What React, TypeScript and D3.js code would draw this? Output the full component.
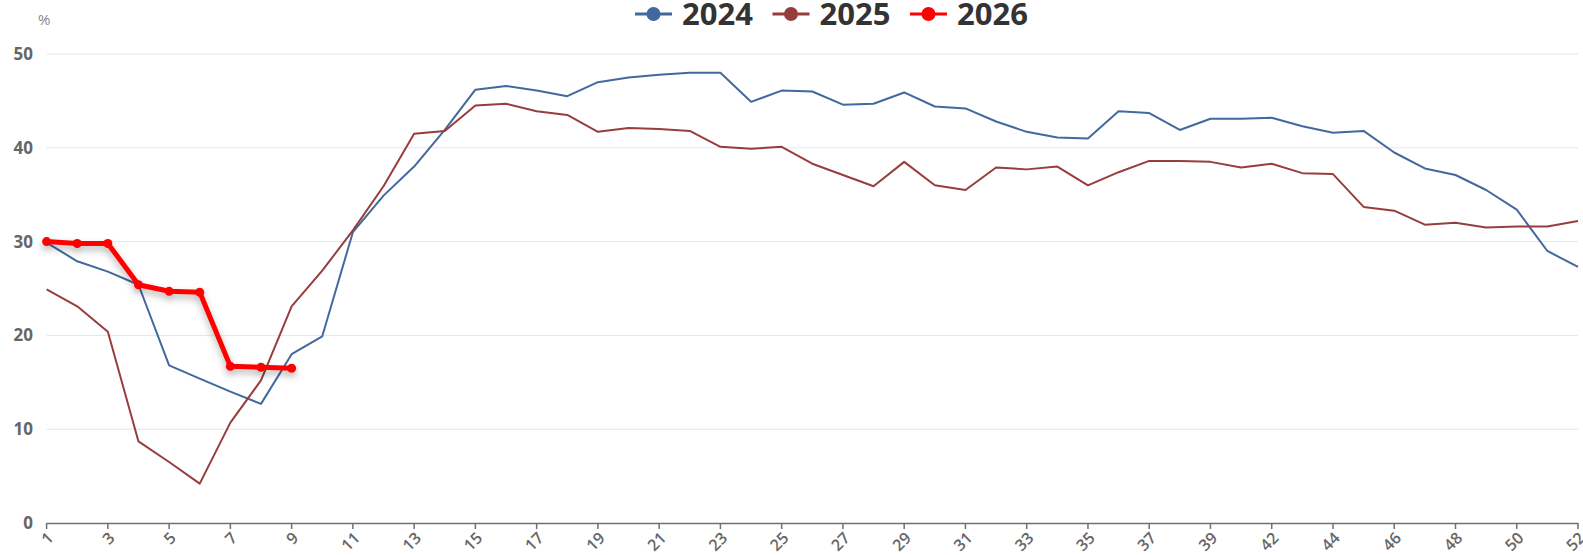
import React from 'react'
import * as d3 from 'd3'

// 周次（第41周缺失）
const weeks = [
  '1', '2', '3', '4', '5', '6', '7', '8', '9', '10', '11', '12', '13', '14', '15', '16', '17', '18', '19', '20',
  '21', '22', '23', '24', '25', '26', '27', '28', '29', '30', '31', '32', '33', '34', '35', '36', '37', '38', '39', '40',
  '42', '43', '44', '45', '46', '47', '48', '49', '50', '51', '52',
]

const y2024 = [
  29.9, 27.9, 26.8, 25.4, 16.8, 15.4, 14.0, 12.7, 18.0, 19.9, 31.0, 34.9, 38.0, 41.9, 46.2, 46.6, 46.1, 45.5, 47.0, 47.5,
  47.8, 48.0, 48.0, 44.9, 46.1, 46.0, 44.6, 44.7, 45.9, 44.4, 44.2, 42.8, 41.7, 41.1, 41.0, 43.9, 43.7, 41.9, 43.1, 43.1,
  43.2, 42.3, 41.6, 41.8, 39.5, 37.8, 37.1, 35.5, 33.4, 29.0, 27.3,
]

const y2025 = [
  24.9, 23.1, 20.4, 8.7, 6.5, 4.2, 10.7, 15.2, 23.1, 26.9, 31.2, 35.9, 41.5, 41.8, 44.5, 44.7, 43.9, 43.5, 41.7, 42.1,
  42.0, 41.8, 40.1, 39.9, 40.1, 38.3, 37.1, 35.9, 38.5, 36.0, 35.5, 37.9, 37.7, 38.0, 36.0, 37.4, 38.6, 38.6, 38.5, 37.9,
  38.3, 37.3, 37.2, 33.7, 33.3, 31.8, 32.0, 31.5, 31.6, 31.6, 32.2,
]

const y2026 = [30.0, 29.8, 29.8, 25.4, 24.7, 24.6, 16.7, 16.6, 16.5]

const yTicks = [0, 10, 20, 30, 40, 50]

const seriesNames = ['2024', '2025', '2026']
const seriesColors = ['#41699d', '#973d3d', '#ff0000']

const W = 1583
const H = 555
const FONT = '"Open Sans", "Noto Sans", sans-serif'

const App: React.FC = () => {
  const x = d3.scalePoint<string>().domain(weeks).range([46.6, 1578])
  const y = d3.scaleLinear().domain([0, 50]).range([523, 54])

  const line = d3
    .line<number>()
    .x((_, i) => x(weeks[i]) as number)
    .y(d => y(d))

  const legendX = 635
  const legendStep = 137.5

  return (
    <svg width={W} height={H} style={{ position: 'absolute', left: 0, top: 0, background: '#fff' }} fontFamily={FONT}>
      <defs>
        <filter id="glow" x="-10%" y="-20%" width="120%" height="160%">
          <feDropShadow dx="0" dy="4" stdDeviation="3.5" floodColor="#000" floodOpacity="0.3" />
        </filter>
      </defs>

      {/* 网格线 */}
      {yTicks.slice(1).map(t => (
        <line key={t} x1={46.6} x2={1578} y1={y(t)} y2={y(t)} stroke="#e0e6f1" strokeWidth={1} />
      ))}

      {/* Y轴标签 */}
      {yTicks.map(t => (
        <text key={t} x={33} y={y(t)} dy="0.35em" textAnchor="end" fontSize={17} fontWeight="bold" fill="#666">
          {t}
        </text>
      ))}
      <text x={38} y={25} fontSize={15} fill="#888">%</text>

      {/* X轴 */}
      <line x1={46.6} x2={1578} y1={y(0) + 0.5} y2={y(0) + 0.5} stroke="#6e7079" strokeWidth={1.5} />
      {weeks.map((w, i) =>
        i % 2 === 0 ? (
          <g key={w} transform={`translate(${x(w)},${y(0)})`}>
            <line x1={0} x2={0} y1={0} y2={6} stroke="#6e7079" strokeWidth={1.5} />
            <text
              transform="translate(4,12) rotate(-45)"
              textAnchor="end"
              dy="0.35em"
              fontSize={16}
              fill="#666"
              fontWeight={600}
            >
              {w}
            </text>
          </g>
        ) : null
      )}

      {/* 折线 */}
      <path d={line(y2024) || ''} fill="none" stroke={seriesColors[0]} strokeWidth={2} strokeLinejoin="round" />
      <path d={line(y2025) || ''} fill="none" stroke={seriesColors[1]} strokeWidth={2} strokeLinejoin="round" />
      <g filter="url(#glow)">
        <path d={line(y2026) || ''} fill="none" stroke={seriesColors[2]} strokeWidth={5} strokeLinejoin="round" />
        {y2026.map((v, i) => (
          <circle key={i} cx={x(weeks[i])} cy={y(v)} r={4.5} fill={seriesColors[2]} />
        ))}
      </g>

      {/* 图例 */}
      {seriesNames.map((name, i) => {
        const lx = legendX + i * legendStep
        return (
          <g key={name} transform={`translate(${lx},14)`}>
            <line x1={0} x2={37} y1={0} y2={0} stroke={seriesColors[i]} strokeWidth={3} />
            <circle cx={18.5} cy={0} r={7} fill={seriesColors[i]} />
            <text x={47} y={0} dy="0.35em" fontSize={31} fontWeight="bold" fill="#333">
              {name}
            </text>
          </g>
        )
      })}
    </svg>
  )
}

export default App
